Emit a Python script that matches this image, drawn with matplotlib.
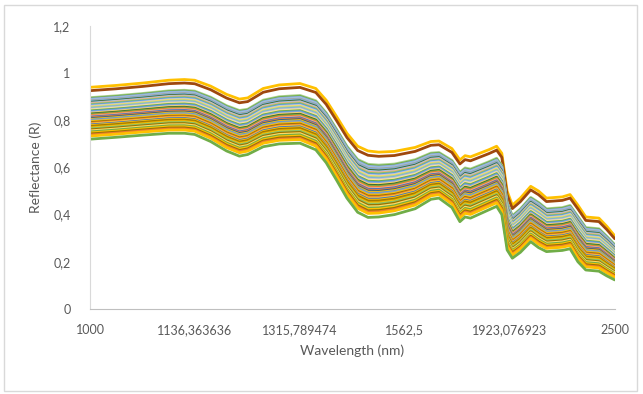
import numpy as np
import matplotlib.pyplot as plt

# anchor wavelengths (nm)
wavelength_nm = [1000, 1031, 1064, 1099, 1121, 1136, 1160, 1185, 1206, 1220,
                 1247, 1276, 1316, 1348, 1370, 1393, 1416, 1441, 1466, 1493,
                 1534, 1592, 1639, 1664, 1706, 1733, 1751, 1770, 1838, 1869,
                 1890, 1912, 1934, 1969, 2016, 2053, 2092, 2174, 2217, 2262,
                 2309, 2392, 2445, 2500]

# highest spectrum (yellow) and lowest spectrum (green)
top_R = [0.940, 0.948, 0.958, 0.970, 0.973, 0.970, 0.945, 0.910, 0.890, 0.895,
         0.935, 0.950, 0.956, 0.935, 0.885, 0.815, 0.745, 0.690, 0.670, 0.665,
         0.668, 0.685, 0.710, 0.712, 0.680, 0.632, 0.650, 0.645, 0.675, 0.690,
         0.660, 0.500, 0.440, 0.470, 0.520, 0.500, 0.470, 0.475, 0.485, 0.440,
         0.390, 0.385, 0.350, 0.310]
bottom_R = [0.720, 0.728, 0.737, 0.745, 0.745, 0.740, 0.710, 0.670, 0.648, 0.655,
            0.688, 0.700, 0.703, 0.675, 0.620, 0.545, 0.470, 0.410, 0.388, 0.390,
            0.400, 0.425, 0.465, 0.470, 0.430, 0.370, 0.390, 0.385, 0.420, 0.435,
            0.400, 0.250, 0.215, 0.240, 0.285, 0.260, 0.243, 0.248, 0.255, 0.200,
            0.165, 0.160, 0.140, 0.123]

# relative position of each sample between the lowest and highest spectrum
sample_level = [1.00, 0.935, 0.80, 0.785, 0.77, 0.755, 0.74, 0.725, 0.71, 0.695,
                0.68, 0.665, 0.65, 0.635, 0.62, 0.605, 0.59, 0.575,
                0.56, 0.545, 0.53, 0.515, 0.50, 0.485, 0.47, 0.455, 0.44, 0.425,
                0.41, 0.395, 0.38, 0.365, 0.35, 0.335, 0.32, 0.305, 0.29, 0.275,
                0.26, 0.245, 0.23, 0.215, 0.20, 0.18, 0.16, 0.14, 0.12, 0.10,
                0.08, 0.06, 0.0]
sample_color = ['#FFC000', '#9E480E', '#A9D18E', '#70AD47', '#8FAADC', '#9DC3E6',
                '#A5A5A5', '#7CAFDD', '#43682B', '#9DC3E6', '#F4B183', '#8CC168',
                '#5B9BD5', '#B4C7E7', '#FFD966', '#A9D18E', '#7CAFDD', '#C9C9C9',
                '#FFE699', '#70AD47', '#5B9BD5', '#8FAADC', '#FFD966', '#43682B',
                '#70AD47', '#ED7D31', '#F4B183', '#4472C4', '#ED7D31', '#255E91',
                '#FFC000', '#5B9BD5', '#A5A5A5', '#FFC000', '#997300', '#ED7D31',
                '#FFCD33', '#4472C4', '#FFC000', '#997300', '#BF9000', '#FFC000',
                '#8CC168', '#997300', '#FFD966', '#70AD47', '#FFC000', '#997300',
                '#ED7D31', '#FFC000', '#70AD47']

tick_labels = ['1000', '1136,363636', '1315,789474', '1562,5', '1923,076923', '2500']
tick_wn = [10000, 8800, 7600, 6400, 5200, 4000]

plt.rcParams['font.family'] = ['Lato', 'DejaVu Sans']
txt = '#595959'

wn = 1e7 / np.array(wavelength_nm)
top = np.array(top_R)
bot = np.array(bottom_R)

fig = plt.figure(figsize=(6.43, 3.94), dpi=100)
fig.patches.append(plt.Rectangle((4 / 643, 3 / 394), 633 / 643, 386 / 394,
                                 transform=fig.transFigure, fill=False,
                                 edgecolor='#D9D9D9', lw=1))
ax = fig.add_axes([0.140, 0.216, 0.816, 0.718])

for lev, c in zip(sample_level, sample_color):
    ax.plot(wn, bot + lev * (top - bot), color=c, lw=2.0,
            solid_joinstyle='round', solid_capstyle='round')

ax.set_xlim(10000, 4000)
ax.set_ylim(0, 1.2)
ax.set_xticks(tick_wn)
ax.set_xticklabels(tick_labels)
ax.set_yticks([0, 0.2, 0.4, 0.6, 0.8, 1.0, 1.2])
ax.set_yticklabels(['0', '0,2', '0,4', '0,6', '0,8', '1', '1,2'])
ax.tick_params(axis='both', length=0, labelsize=9, colors=txt)
ax.tick_params(axis='y', pad=14)
ax.tick_params(axis='x', pad=11)
for s in ['top', 'right']:
    ax.spines[s].set_visible(False)
ax.spines['left'].set_color('#D9D9D9')
ax.spines['bottom'].set_color('#BFBFBF')
ax.set_xlabel('Wavelength (nm)', fontsize=10, color=txt, labelpad=6)
ax.set_ylabel('Reflectance (R)', fontsize=10, color=txt, labelpad=8)

fig.savefig('out.png', dpi=100)
